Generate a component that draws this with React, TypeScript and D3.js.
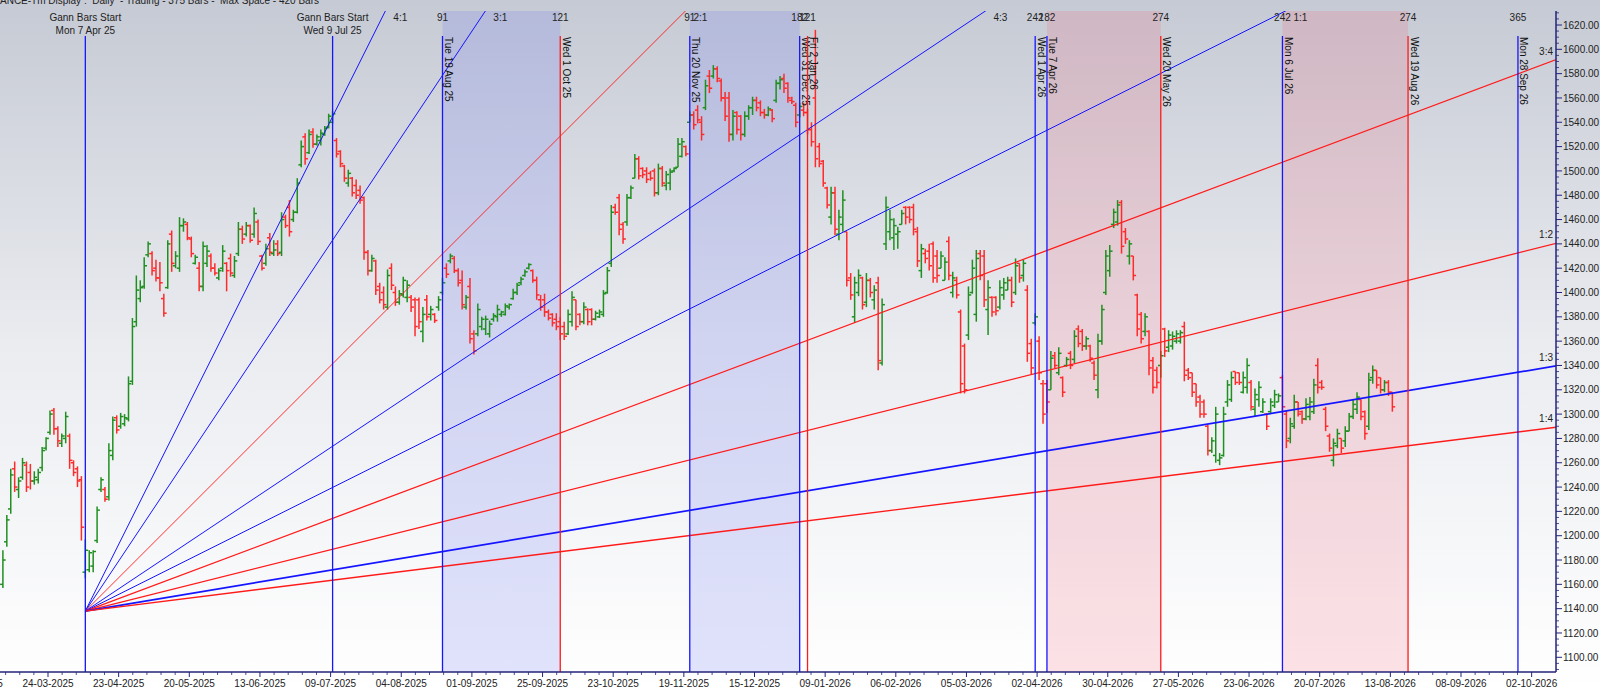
import React from "react";
import * as d3 from "d3";

// ---------- DATA ----------
const FIRST_BAR_INDEX = -12; // bar index of the first visible bar (0 = 24-03-2025)

// [open, high, low, close]
const barsMarApr2025: number[][] = [
  [1160,1188,1157,1180],[1195,1217,1191,1213],[1222,1255,1218,1250],[1255,1261,1236,1240],
  [1238,1248,1231,1245],[1248,1264,1246,1260],[1258,1261,1236,1240],[1252,1259,1238,1245],
  [1245,1253,1242,1248],[1246,1255,1243,1252],[1256,1273,1253,1270],[1272,1281,1270,1280],
  [1285,1303,1283,1300],[1303,1305,1283,1288],[1288,1290,1273,1278],[1276,1284,1273,1282],
  [1280,1302,1276,1298],[1282,1284,1255,1262],[1260,1262,1249,1252],[1255,1257,1240,1245],
  [1246,1249,1196,1207],[1170,1197,1165,1188],[1172,1188,1170,1186],[1175,1188,1170,1187],
  [1196,1224,1194,1221],[1238,1248,1236,1246],[1238,1240,1228,1230],[1232,1276,1229,1270],
  [1266,1298,1262,1295],[1297,1299,1284,1287],[1290,1301,1288,1298],[1292,1300,1290,1297],
  [1296,1331,1294,1325],
];
const barsMayJul2025: number[][] = [
  [1327,1379,1324,1372],[1376,1414,1372,1402],[1395,1410,1392,1404],[1405,1429,1403,1422],
  [1431,1442,1429,1440],[1432,1434,1414,1418],[1420,1427,1409,1412],[1412,1425,1401,1408],
  [1395,1399,1380,1383],[1404,1443,1403,1440],[1448,1451,1417,1424],[1422,1434,1420,1430],
  [1420,1462,1417,1455],[1455,1461,1450,1458],[1456,1458,1443,1445],[1444,1446,1429,1432],
  [1424,1431,1423,1429],[1420,1425,1401,1405],[1405,1442,1401,1438],[1424,1439,1421,1434],
  [1430,1432,1417,1420],[1420,1424,1414,1416],[1412,1420,1410,1418],[1420,1439,1417,1434],
  [1424,1425,1401,1418],[1428,1432,1413,1416],[1414,1430,1412,1426],[1432,1458,1430,1452],
  [1452,1455,1440,1444],[1448,1458,1446,1455],[1455,1456,1441,1443],[1448,1470,1445,1465],
  [1458,1460,1439,1442],[1430,1431,1418,1420],[1424,1440,1422,1436],[1445,1449,1430,1433],
  [1432,1443,1430,1435],[1440,1443,1430,1432],[1433,1466,1430,1460],[1462,1464,1453,1455],
  [1470,1476,1446,1450],[1460,1468,1458,1466],[1466,1494,1465,1490],[1505,1525,1503,1520],
  [1528,1531,1505,1510],[1515,1534,1514,1530],[1532,1535,1519,1522],[1522,1530,1521,1528],
  [1525,1534,1521,1531],[1530,1537,1529,1535],[1536,1547,1535,1545],[1540,1549,1539,1547],
];
const barsJulOct2025: number[][] = [
  [1525,1527,1511,1514],[1516,1517,1503,1506],[1504,1505,1491,1494],[1490,1501,1487,1498],
  [1494,1495,1479,1482],[1488,1493,1477,1480],[1484,1488,1473,1476],[1478,1479,1427,1433],
  [1433,1435,1414,1418],[1418,1431,1417,1428],[1426,1427,1398,1402],[1405,1408,1391,1394],
  [1400,1405,1386,1390],[1388,1419,1386,1414],[1420,1424,1402,1406],[1400,1405,1389,1392],
  [1392,1402,1390,1399],[1398,1413,1396,1410],[1396,1410,1392,1406],[1396,1398,1384,1388],
  [1394,1396,1364,1372],[1394,1396,1370,1376],[1368,1388,1359,1382],[1394,1398,1377,1380],
  [1382,1389,1377,1386],[1382,1383,1375,1377],[1388,1397,1385,1394],[1400,1412,1398,1408],
  [1420,1424,1412,1415],[1426,1432,1424,1430],[1428,1430,1416,1418],[1418,1420,1405,1408],
  [1410,1418,1386,1390],[1388,1398,1386,1396],[1405,1412,1358,1362],[1366,1369,1349,1352],
  [1366,1391,1364,1386],[1372,1380,1369,1378],[1370,1381,1365,1378],[1366,1377,1363,1374],
  [1378,1383,1376,1381],[1380,1390,1376,1386],[1382,1385,1380,1384],[1382,1391,1381,1389],
  [1388,1391,1386,1390],[1395,1403,1394,1400],[1400,1408,1398,1406],[1408,1413,1406,1411],
  [1414,1419,1413,1417],[1420,1424,1419,1423],[1418,1419,1408,1410],[1410,1413,1394,1398],
  [1394,1398,1385,1388],[1394,1399,1380,1384],[1384,1386,1377,1379],[1382,1383,1372,1375],
  [1378,1383,1369,1372],[1376,1380,1361,1366],
];
const barsOctDec2025: number[][] = [
  [1372,1376,1361,1364],[1366,1386,1365,1382],[1376,1401,1372,1396],[1394,1394,1369,1372],
  [1382,1383,1373,1376],[1376,1392,1374,1388],[1386,1387,1373,1376],[1386,1387,1373,1378],
  [1378,1385,1377,1383],[1380,1386,1379,1384],[1382,1402,1380,1399],[1400,1421,1399,1418],
  [1424,1472,1421,1466],[1470,1473,1464,1466],[1478,1481,1447,1452],[1456,1458,1440,1444],
  [1458,1481,1455,1478],[1478,1488,1477,1486],[1494,1514,1494,1510],[1510,1512,1493,1496],
  [1502,1503,1494,1497],[1500,1503,1490,1493],[1498,1500,1492,1494],[1500,1502,1479,1482],
  [1482,1506,1480,1502],[1502,1504,1487,1490],[1488,1500,1484,1497],[1490,1502,1484,1499],
  [1500,1503,1499,1502],[1503,1527,1503,1522],[1512,1527,1511,1524],[1520,1521,1512,1514],
  [1540,1549,1540,1546],[1546,1549,1534,1538],[1550,1554,1539,1542],[1540,1545,1525,1530],
  [1552,1575,1550,1570],[1578,1583,1564,1568],[1578,1587,1576,1584],[1584,1586,1573,1576],
  [1574,1576,1557,1560],[1560,1565,1541,1545],[1560,1565,1524,1530],[1530,1550,1525,1545],
  [1548,1549,1530,1534],[1545,1546,1525,1530],[1530,1549,1528,1545],[1545,1554,1542,1552],
  [1552,1561,1546,1558],[1558,1561,1549,1552],[1556,1558,1545,1548],[1548,1551,1543,1546],
  [1546,1553,1545,1551],[1550,1551,1540,1543],[1558,1575,1556,1572],[1572,1578,1567,1575],
  [1576,1580,1564,1568],[1572,1573,1556,1560],[1558,1561,1555,1557],[1554,1556,1536,1540],
  [1546,1556,1544,1553],[1550,1556,1545,1548],
];
const barsJanMar2026: number[][] = [
  [1548,1551,1530,1534],[1534,1540,1520,1524],[1560,1616,1503,1510],[1520,1523,1503,1506],
  [1508,1509,1487,1490],[1486,1487,1469,1472],[1462,1487,1456,1482],[1482,1487,1447,1452],
  [1448,1468,1443,1462],[1456,1484,1450,1476],[1450,1450,1405,1410],[1412,1416,1394,1398],
  [1380,1413,1375,1408],[1400,1419,1397,1414],[1412,1413,1386,1390],[1392,1416,1388,1410],
  [1410,1412,1396,1400],[1394,1406,1386,1402],[1408,1413,1336,1344],[1342,1395,1340,1390],
  [1440,1479,1435,1470],[1450,1468,1443,1460],[1445,1461,1435,1455],[1448,1454,1436,1450],
  [1456,1468,1456,1465],[1470,1471,1456,1462],[1470,1471,1457,1460],[1470,1473,1447,1452],
  [1450,1454,1421,1426],[1418,1440,1412,1436],[1432,1436,1424,1428],[1434,1440,1418,1422],
  [1440,1442,1408,1412],[1430,1435,1408,1414],[1420,1434,1420,1430],[1410,1429,1410,1425],
  [1442,1446,1410,1414],[1400,1417,1396,1412],[1410,1413,1395,1398],[1384,1386,1317,1325],
  [1356,1358,1317,1320],[1365,1405,1361,1398],[1400,1427,1399,1420],[1382,1435,1376,1428],
  [1432,1435,1410,1414],[1430,1435,1388,1394],[1386,1410,1365,1404],[1396,1397,1380,1384],
  [1396,1397,1381,1385],[1388,1410,1386,1404],[1398,1412,1394,1408],[1402,1413,1402,1410],
  [1410,1413,1388,1392],[1400,1428,1398,1422],[1424,1424,1408,1412],[1414,1427,1409,1424],
  [1402,1406,1343,1350],[1358,1362,1333,1338],
];
const barsAprAug2026: number[][] = [
  [1375,1383,1373,1380],[1360,1364,1328,1334],[1325,1328,1292,1300],[1325,1328,1301,1310],
  [1320,1352,1320,1346],[1348,1351,1338,1340],[1334,1355,1332,1350],[1330,1331,1314,1318],
  [1340,1347,1339,1345],[1350,1352,1337,1340],[1345,1369,1342,1364],[1370,1373,1355,1358],
  [1368,1370,1352,1356],[1356,1364,1353,1362],[1356,1357,1343,1346],[1342,1344,1328,1332],
  [1320,1366,1313,1360],[1360,1390,1357,1386],[1400,1435,1398,1430],[1418,1439,1413,1434],
  [1456,1469,1453,1466],[1458,1476,1455,1472],[1474,1476,1432,1438],[1450,1453,1440,1444],
  [1430,1443,1423,1440],[1430,1430,1410,1414],[1398,1399,1364,1370],[1382,1384,1358,1362],
  [1368,1383,1364,1380],[1368,1369,1332,1338],[1344,1347,1317,1322],[1336,1339,1321,1326],
  [1340,1352,1330,1348],[1370,1371,1347,1352],[1355,1369,1351,1365],[1356,1368,1353,1364],
  [1360,1369,1358,1366],[1360,1369,1358,1367],[1372,1376,1327,1332],[1336,1338,1328,1330],
  [1334,1334,1314,1318],[1325,1325,1306,1310],[1314,1316,1297,1300],[1310,1312,1297,1300],
  [1290,1291,1266,1270],[1270,1281,1268,1278],[1266,1306,1260,1300],[1262,1268,1258,1264],
  [1266,1306,1265,1300],[1310,1328,1306,1324],[1312,1335,1310,1330],[1335,1335,1324,1326],
  [1334,1334,1324,1326],[1318,1335,1317,1330],[1322,1346,1317,1340],[1326,1328,1303,1306],
  [1304,1321,1298,1316],[1312,1327,1306,1322],[1302,1313,1301,1310],[1300,1301,1287,1290],
  [1302,1313,1301,1310],[1307,1320,1305,1316],[1310,1317,1310,1315],[1330,1332,1301,1306],
  [1300,1303,1272,1278],[1280,1297,1276,1292],[1290,1316,1288,1310],[1310,1310,1298,1300],
  [1302,1303,1292,1296],[1296,1313,1295,1308],[1298,1314,1295,1310],[1302,1329,1300,1324],
  [1340,1346,1317,1322],[1326,1328,1320,1322],[1304,1306,1286,1290],[1282,1284,1269,1272],
  [1262,1280,1257,1276],[1274,1288,1272,1284],[1280,1280,1268,1272],[1278,1290,1273,1286],
  [1286,1301,1286,1298],[1298,1312,1296,1308],[1304,1318,1300,1314],[1312,1312,1295,1298],
  [1302,1303,1279,1284],[1290,1334,1287,1328],[1330,1340,1325,1336],[1336,1336,1321,1324],
  [1330,1330,1317,1320],[1320,1328,1318,1326],[1326,1328,1315,1318],[1318,1318,1302,1306],
];

const dateTickLabels = [
  "27-02-2025","24-03-2025","23-04-2025","20-05-2025","13-06-2025","09-07-2025","04-08-2025",
  "01-09-2025","25-09-2025","23-10-2025","19-11-2025","15-12-2025","09-01-2026","06-02-2026",
  "05-03-2026","02-04-2026","30-04-2026","27-05-2026","23-06-2026","20-07-2026","13-08-2026",
  "08-09-2026","02-10-2026",
];
const DATE_TICK_FIRST = -18;
const DATE_TICK_STEP = 18;

const priceTicks = d3.range(1100, 1621, 20);

const gannOrigin = { index: 9, price: 1138 };
const gannUnit = 1.614; // price per bar for the 1:1 angle
const fanAngles = [
  { label: "4:1", ratio: 4, color: "#1515ff", width: 1 },
  { label: "3:1", ratio: 3, color: "#1515ff", width: 1 },
  { label: "2:1", ratio: 2, color: "#ff1a1a", width: 0.9 },
  { label: "4:3", ratio: 4 / 3, color: "#1515ff", width: 1 },
  { label: "1:1", ratio: 1, color: "#1515ff", width: 1 },
  { label: "3:4", ratio: 3 / 4, color: "#ff1a1a", width: 1.3 },
  { label: "1:2", ratio: 1 / 2, color: "#ff1a1a", width: 1.3 },
  { label: "1:3", ratio: 1 / 3, color: "#1515ff", width: 1.7 },
  { label: "1:4", ratio: 1 / 4, color: "#ff1a1a", width: 1.3 },
];

const startMarkers = [
  { index: 9, title: "Gann Bars Start", date: "Mon 7 Apr 25" },
  { index: 72, title: "Gann Bars Start", date: "Wed 9 Jul 25" },
];
const cycleMarkers = [
  { index: 100, count: "91", date: "Tue 19 Aug 25", color: "#1515ff" },
  { index: 130, count: "121", date: "Wed 1 Oct 25", color: "#ff1a1a" },
  { index: 163, count: "91", date: "Thu 20 Nov 25", color: "#1515ff" },
  { index: 191, count: "182", date: "Wed 31 Dec 25", color: "#1515ff" },
  { index: 193, count: "121", date: "Fri 2 Jan 26", color: "#ff1a1a" },
  { index: 251, count: "242", date: "Wed 1 Apr 26", color: "#1515ff" },
  { index: 254, count: "182", date: "Tue 7 Apr 26", color: "#1515ff" },
  { index: 283, count: "274", date: "Wed 20 May 26", color: "#ff1a1a" },
  { index: 314, count: "242", date: "Mon 6 Jul 26", color: "#1515ff" },
  { index: 346, count: "274", date: "Wed 19 Aug 26", color: "#ff1a1a" },
  { index: 374, count: "365", date: "Mon 28 Sep 26", color: "#1515ff" },
];
const zones = [
  { from: 100, to: 130, kind: "blue" },
  { from: 163, to: 191, kind: "blue" },
  { from: 254, to: 283, kind: "pink" },
  { from: 314, to: 346, kind: "pink" },
];

const headerText = "ANCE-Tm Display :  Daily  - Trading - 375 Bars -  Max Space - 420 Bars";

// ---------- LAYOUT ----------
const W = 1600;
const H = 691;
const PLOT = { left: 0, right: 1556, top: 11, bottom: 672 };
const FONT = "'Liberation Sans', Arial, sans-serif";
const AXIS_COLOR = "#23237a";
const UP = "#1f8f1f";
const DOWN = "#ff2a2a";

const x = d3.scaleLinear().domain([0, 378]).range([50, 50 + 378 * 3.925]);
const y = d3.scaleLinear().domain([1100, 1620]).range([657.3, 25]);

export default function App() {
  const bars = [
    ...barsMarApr2025,
    ...barsMayJul2025,
    ...barsJulOct2025,
    ...barsOctDec2025,
    ...barsJanMar2026,
    ...barsAprAug2026,
  ].map((b, k) => ({ i: FIRST_BAR_INDEX + k, o: b[0], h: b[1], l: b[2], c: b[3] }));

  const ox = x(gannOrigin.index);
  const oy = y(gannOrigin.price);
  const topPrice = y.invert(PLOT.top);
  const rightIndex = x.invert(PLOT.right);

  const fans = fanAngles.map((f) => {
    const slope = f.ratio * gannUnit;
    const farI = gannOrigin.index + 800;
    const farP = gannOrigin.price + slope * 800;
    const iTop = gannOrigin.index + (topPrice - gannOrigin.price) / slope;
    const hitsTop = x(iTop) <= PLOT.right;
    const pRight = gannOrigin.price + slope * (rightIndex - gannOrigin.index);
    return {
      ...f,
      x2: x(farI),
      y2: y(farP),
      hitsTop,
      labelX: hitsTop ? x(iTop) + 8 : PLOT.right - 3,
      labelY: hitsTop ? 20.5 : y(pRight) - 5,
    };
  });

  const dateTicks = dateTickLabels.map((lab, k) => ({
    label: lab,
    px: x(DATE_TICK_FIRST + k * DATE_TICK_STEP) - 2,
  }));
  const minorDateTicks: number[] = [];
  for (let k = 0; k < dateTicks.length - 1; k++) {
    for (let s = 1; s < 5; s++) {
      minorDateTicks.push(dateTicks[k].px + ((dateTicks[k + 1].px - dateTicks[k].px) * s) / 5);
    }
  }
  const minorPrice = d3.range(1090, 1631, 5).filter((p) => p % 20 !== 0);

  return (
    <>
      <style>{"body{margin:0;overflow:hidden}"}</style>
      <svg width={W} height={H} style={{ display: "block" }} fontFamily={FONT}>
        <defs>
          <linearGradient id="bg" x1="0" y1="0" x2="0" y2="1">
            <stop offset="0" stopColor="#c6cad4" />
            <stop offset="0.5" stopColor="#eaecf0" />
            <stop offset="1" stopColor="#ffffff" />
          </linearGradient>
          <clipPath id="plotClip">
            <rect x={PLOT.left} y={PLOT.top} width={PLOT.right - PLOT.left} height={PLOT.bottom - PLOT.top} />
          </clipPath>
        </defs>
        <rect x={0} y={0} width={W} height={H} fill="url(#bg)" />

        {/* header */}
        <text x={0} y={4} fontSize={10} fill="#222" style={{ whiteSpace: "pre" }}>
          {headerText}
        </text>

        {/* shaded zones */}
        {zones.map((z, k) => (
          <rect
            key={k}
            x={x(z.from)}
            y={PLOT.top}
            width={x(z.to) - x(z.from)}
            height={PLOT.bottom - PLOT.top}
            fill={z.kind === "blue" ? "rgb(110,118,245)" : "rgb(245,95,115)"}
            fillOpacity={z.kind === "blue" ? 0.2 : 0.18}
          />
        ))}

        {/* bars */}
        <g clipPath="url(#plotClip)">
          {bars.map((b) => {
            const cx = x(b.i);
            const col = b.c >= b.o ? UP : DOWN;
            return (
              <g key={b.i} stroke={col} strokeWidth={1.5}>
                <line x1={cx} x2={cx} y1={y(b.h)} y2={y(b.l)} />
                <line x1={cx - 2.8} x2={cx} y1={y(b.o)} y2={y(b.o)} />
                <line x1={cx} x2={cx + 2.8} y1={y(b.c)} y2={y(b.c)} />
              </g>
            );
          })}
        </g>

        {/* gann fan */}
        <g clipPath="url(#plotClip)">
          {fans.map((f) => (
            <line key={f.label} x1={ox} y1={oy} x2={f.x2} y2={f.y2} stroke={f.color} strokeWidth={f.width} />
          ))}
        </g>
        {fans.map((f) => (
          <text
            key={"l" + f.label}
            x={f.labelX}
            y={f.labelY}
            fontSize={10}
            fill="#222"
            textAnchor={f.hitsTop ? "start" : "end"}
          >
            {f.label}
          </text>
        ))}

        {/* start markers */}
        {startMarkers.map((m) => (
          <g key={m.index}>
            <line x1={x(m.index)} x2={x(m.index)} y1={36} y2={PLOT.bottom} stroke="#1515ff" strokeWidth={1.3} />
            <text x={x(m.index)} y={21} fontSize={10} textAnchor="middle" fill="#222">
              {m.title}
            </text>
            <text x={x(m.index)} y={34} fontSize={10} textAnchor="middle" fill="#222">
              {m.date}
            </text>
          </g>
        ))}

        {/* cycle markers */}
        {cycleMarkers.map((m) => (
          <g key={m.index}>
            <line x1={x(m.index)} x2={x(m.index)} y1={36} y2={PLOT.bottom} stroke={m.color} strokeWidth={1.3} />
            <text x={x(m.index)} y={20.5} fontSize={10} textAnchor="middle" fill="#222">
              {m.count}
            </text>
            <text
              transform={`translate(${x(m.index) + 2.5},37) rotate(90)`}
              fontSize={10}
              fill="#111"
            >
              {m.date}
            </text>
          </g>
        ))}

        {/* right axis */}
        <line x1={PLOT.right} x2={PLOT.right} y1={PLOT.top} y2={PLOT.bottom} stroke={AXIS_COLOR} strokeWidth={1.5} />
        {minorPrice
          .filter((p) => y(p) > PLOT.top && y(p) < PLOT.bottom)
          .map((p) => (
            <line key={"mp" + p} x1={PLOT.right} x2={PLOT.right + 3} y1={y(p)} y2={y(p)} stroke={AXIS_COLOR} strokeWidth={0.8} />
          ))}
        {priceTicks.map((p) => (
          <g key={p}>
            <line x1={PLOT.right} x2={PLOT.right + 6} y1={y(p)} y2={y(p)} stroke={AXIS_COLOR} strokeWidth={1} />
            <text x={PLOT.right + 7} y={y(p) + 3.6} fontSize={10} fill="#222">
              {p.toFixed(2)}
            </text>
          </g>
        ))}

        {/* bottom axis */}
        <line x1={0} x2={PLOT.right} y1={PLOT.bottom} y2={PLOT.bottom} stroke={AXIS_COLOR} strokeWidth={1.5} />
        {minorDateTicks
          .filter((px) => px > 0 && px < PLOT.right)
          .map((px, k) => (
            <line key={"md" + k} x1={px} x2={px} y1={PLOT.bottom} y2={PLOT.bottom + 3} stroke={AXIS_COLOR} strokeWidth={0.8} />
          ))}
        {dateTicks.map((t) => (
          <g key={t.label}>
            <line x1={t.px} x2={t.px} y1={PLOT.bottom} y2={PLOT.bottom + 5} stroke={AXIS_COLOR} strokeWidth={1} />
            <text x={t.px} y={687} fontSize={10} textAnchor="middle" fill="#222">
              {t.label}
            </text>
          </g>
        ))}
      </svg>
    </>
  );
}
